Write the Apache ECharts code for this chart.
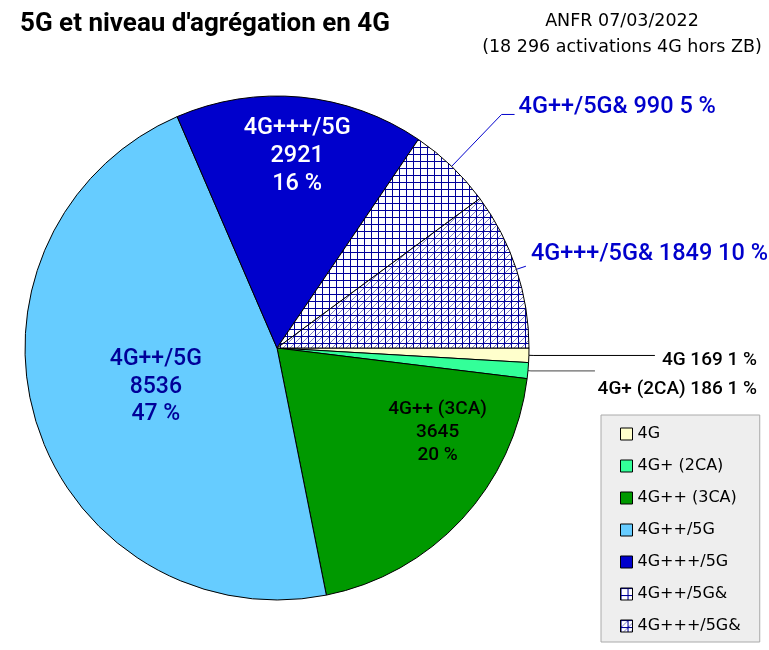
<!DOCTYPE html>
<html>
<head>
<meta charset="utf-8">
<script src="https://cdn.jsdelivr.net/npm/echarts@6/dist/echarts.min.js"></script>
<style>
html, body { margin: 0; padding: 0; background: #fff; }
#main { width: 769px; height: 650px; }
</style>
</head>
<body>
<div id="main"></div>
<script>
// données ANFR 07/03/2022
var categories = ['4G', '4G+ (2CA)', '4G++ (3CA)', '4G++/5G', '4G+++/5G', '4G++/5G&', '4G+++/5G&']
var activations = [169, 186, 3645, 8536, 2921, 990, 1849]
var titleText = "5G et niveau d'agrégation en 4G"
var subLines = ['ANFR 07/03/2022', '(18 296 activations 4G hors ZB)']

// motif quadrillé (avec diagonales pour le second)
function hatch(diag) {
	var c = document.createElement('canvas')
	c.width = 7
	c.height = 7
	var g = c.getContext('2d')
	g.fillStyle = '#fff'
	g.fillRect(0, 0, 7, 7)
	if (diag) {
		g.fillStyle = '#8080c8'
		for (var k = 1; k < 7; k++) g.fillRect(k, 7 - k, 1, 1)
	}
	g.fillStyle = '#000099'
	g.fillRect(0, 0, 7, 1)
	g.fillRect(0, 0, 1, 7)
	return { image: c, repeat: 'repeat' }
}

var colors = ['#ffffcc', '#33ff99', '#009900', '#66ccff', '#0000cc', hatch(false), hatch(true)]

function inFmt(p) { return p.name + '\n' + p.value + '\n' + p.percent + ' %' }
function outFmt(p) { return p.name + ' ' + p.value + ' ' + p.percent + ' %' }

// réglages des étiquettes, par tranche
var labelCfg = [
	{ label: { position: 'outside', alignTo: 'edge', edgeDistance: 12, fontSize: 19, color: '#000', formatter: outFmt },
	  labelLine: { length: 5, length2: 121, lineStyle: { color: '#000' } } },
	{ label: { position: 'outside', alignTo: 'edge', edgeDistance: 12, fontSize: 19, color: '#000', formatter: outFmt },
	  labelLine: { length: 3, length2: 64, lineStyle: { color: '#444' } } },
	{ label: { position: 'inside', fontSize: 19, lineHeight: 23, color: '#000', formatter: inFmt } },
	{ label: { position: 'inside', fontSize: 23, lineHeight: 27.5, color: '#000099', formatter: inFmt } },
	{ label: { position: 'inside', fontSize: 23.5, lineHeight: 28, color: '#fff', formatter: inFmt } },
	{ label: { position: 'outside', alignTo: 'none', fontSize: 23.5, color: '#0000cc', formatter: outFmt },
	  labelLine: { length: 72, length2: 13, lineStyle: { color: '#0000cc' } } },
	{ label: { position: 'outside', alignTo: 'none', fontSize: 23.5, color: '#0000cc', formatter: outFmt },
	  labelLine: { length: 10, length2: 0, lineStyle: { color: '#0000cc' } } }
]
// décalage des textes par rapport à leur place par défaut
var labelShift = [[0, 5], [0, 18], [66, -3], [2, 0.5], [8, -63], [-1, -7], [0, -12]]

var pieData = []
for (var i = 0; i < categories.length; i++) {
	var d = {
		name: categories[i],
		value: activations[i],
		itemStyle: { color: colors[i] },
		label: labelCfg[i].label
	}
	if (labelCfg[i].labelLine) d.labelLine = labelCfg[i].labelLine
	pieData.push(d)
}

var chart = echarts.init(document.getElementById('main'))
var option = {
	animation: false,
	title: {
		text: titleText,
		left: 20,
		top: 11,
		padding: 0,
		textStyle: { fontFamily: 'Roboto', fontWeight: 'bold', fontSize: 26, color: '#000' }
	},
	graphic: [
		{ type: 'text', x: 622, y: 21, silent: true,
		  style: { text: subLines[0], textAlign: 'center', align: 'center', textVerticalAlign: 'middle', verticalAlign: 'middle',
		           font: '17.5px "DejaVu Sans"', fill: '#000' } },
		{ type: 'text', x: 622, y: 47, silent: true,
		  style: { text: subLines[1], textAlign: 'center', align: 'center', textVerticalAlign: 'middle', verticalAlign: 'middle',
		           font: '17.5px "DejaVu Sans"', fill: '#000' } }
	],
	legend: {
		orient: 'vertical',
		left: 601,
		top: 415,
		padding: [9, 19, 6, 19],
		itemGap: 12,
		itemWidth: 12,
		itemHeight: 12,
		icon: 'rect',
		selectedMode: false,
		backgroundColor: '#eeeeee',
		borderColor: '#aaaaaa',
		borderWidth: 1,
		itemStyle: { borderColor: '#000', borderWidth: 1 },
		textStyle: { fontFamily: 'DejaVu Sans', fontSize: 16, lineHeight: 20, color: '#000' },
		data: categories
	},
	series: [{
		type: 'pie',
		center: [277, 348],
		radius: 252,
		startAngle: 0,
		clockwise: true,
		percentPrecision: 0,
		avoidLabelOverlap: false,
		silent: true,
		itemStyle: { borderColor: '#000', borderWidth: 1 },
		label: { fontFamily: 'Roboto', fontWeight: 500 },
		labelLine: { show: true, lineStyle: { width: 1 } },
		labelLayout: function (p) {
			var s = labelShift[p.dataIndex]
			return { dx: s[0], dy: s[1] }
		},
		data: pieData
	}]
}
chart.setOption(option)
</script>
</body>
</html>
